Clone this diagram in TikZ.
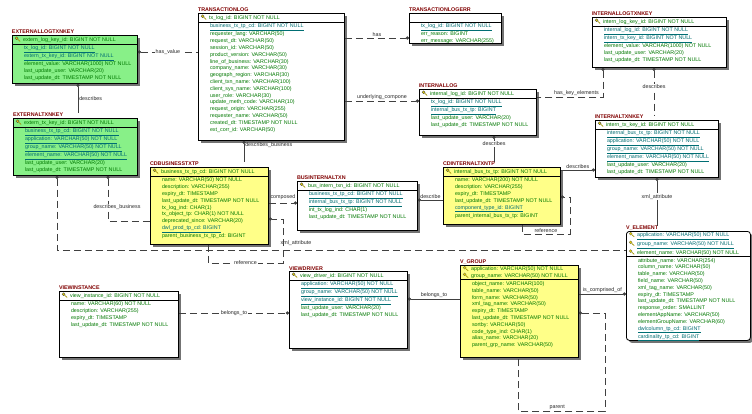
\documentclass[tikz,border=0pt]{standalone}
\usepackage{fontspec}
\setmainfont{Liberation Sans}
\usepackage{xcolor}
\usepackage{tikz}
\usetikzlibrary{positioning, shadows, arrows.meta}

\definecolor{ertitle}{HTML}{800000}
\definecolor{erfield}{HTML}{007800}
\definecolor{erkey}{HTML}{006E73}
\definecolor{ergreen}{HTML}{88F088}
\definecolor{eryellow}{HTML}{FFFF88}
\definecolor{keygold}{HTML}{E6D200}

\newcommand{\erfont}{\fontsize{5.35}{6.8}\selectfont}
\newcommand{\fk}[1]{\textcolor{erkey}{\underline{#1}}}
\newcommand{\pkey}{\tikz[baseline=0pt]{\draw[line width=0.25pt, draw=black!70, fill=keygold] (1.6pt,3pt) circle (1.5pt); \draw[line width=0.7pt, draw=keygold!70!black] (2.6pt,2pt) -- (5.2pt,-0.2pt);}\hspace{2.5pt}}

\tikzstyle{tablebox} = [rectangle, draw=black, line width=0.8pt, anchor=north west, drop shadow={shadow xshift=2.5pt, shadow yshift=-2.5pt, fill=black, opacity=0.55}]
\tikzstyle{tabletitle} = [anchor=south west, inner sep=0pt, outer sep=0pt, font=\erfont\bfseries, text=ertitle]
\tikzstyle{keyrow} = [anchor=north west, inner xsep=3pt, inner ysep=1pt, outer sep=0pt, minimum height=9pt, align=left, font=\erfont, text=erfield]
\tikzstyle{fieldrows} = [anchor=north west, inner xsep=12pt, inner ysep=2pt, outer sep=0pt, align=left, font=\erfont, text=erfield]
\tikzstyle{relation} = [draw=black!75, line width=0.5pt, >={Circle[length=3.2pt]}]
\tikzstyle{dashrel} = [relation, dash pattern=on 7pt off 4pt]
\tikzstyle{rellabel} = [font=\erfont, text=black!85, inner sep=1pt]

% name, position, width, height, fill, title, key rows, field rows
\newcommand{\ertable}[8]{%
  \node (#1) [tablebox, fill=#5, minimum width=#3, minimum height=#4] at #2 {};
  \node (#1-title) [tabletitle] at ([yshift=1pt]#1.north west) {#6};
  \node (#1-key) [keyrow] at (#1.north west) {#7};
  \draw [line width=0.5pt] (#1-key.south -| #1.west) -- (#1-key.south -| #1.east);
  \node (#1-fields) [fieldrows] at (#1-key.south west) {#8};
}

\begin{document}
\begin{tikzpicture}[x=1pt, y=-1pt]
\useasboundingbox (0,0) rectangle (752,414);

% External key tables
\ertable{extlogkey}{(12,35)}{125pt}{48pt}{ergreen}{EXTERNALLOGTXNKEY}
  {\pkey extern\_log\_key\_id: BIGINT NOT NULL}
  {\fk{tx\_log\_id: BIGINT NOT NULL}\\ \fk{extern\_tx\_key\_id: BIGINT NOT NULL}\\ element\_value: VARCHAR(1000) NOT NULL\\ last\_update\_user: VARCHAR(20)\\ last\_update\_dt: TIMESTAMP NOT NULL}
\ertable{exttxkey}{(13,118)}{124pt}{57pt}{ergreen}{EXTERNALTXNKEY}
  {\pkey extern\_tx\_key\_id: BIGINT NOT NULL}
  {\fk{business\_tx\_tp\_cd: BIGINT NOT NULL}\\ \fk{application: VARCHAR(50) NOT NULL}\\ \fk{group\_name: VARCHAR(50) NOT NULL}\\ \fk{element\_name: VARCHAR(50) NOT NULL}\\ last\_update\_user: VARCHAR(20)\\ last\_update\_dt: TIMESTAMP NOT NULL}

% Transaction log tables
\ertable{txlog}{(198,13)}{146pt}{127pt}{white}{TRANSACTIONLOG}
  {\pkey tx\_log\_id: BIGINT NOT NULL}
  {\fk{business\_tx\_tp\_cd: BIGINT NOT NULL}\\ requester\_lang: VARCHAR(50)\\ request\_dt: VARCHAR(50)\\ session\_id: VARCHAR(50)\\ product\_version: VARCHAR(50)\\ line\_of\_business: VARCHAR(30)\\ company\_name: VARCHAR(30)\\ geograph\_region: VARCHAR(30)\\ client\_txn\_name: VARCHAR(100)\\ client\_sys\_name: VARCHAR(100)\\ user\_role: VARCHAR(30)\\ update\_meth\_code: VARCHAR(10)\\ request\_origin: VARCHAR(255)\\ requester\_name: VARCHAR(50)\\ created\_dt: TIMESTAMP NOT NULL\\ ext\_corr\_id: VARCHAR(50)}
\ertable{txlogerr}{(409,13)}{92pt}{30pt}{white}{TRANSACTIONLOGERR}
  {}
  {\fk{tx\_log\_id: BIGINT NOT NULL}\\ err\_reason: BIGINT\\ err\_message: VARCHAR(255)}

% Internal tables
\ertable{intlog}{(419,89)}{117pt}{46pt}{white}{INTERNALLOG}
  {\pkey internal\_log\_id: BIGINT NOT NULL}
  {\fk{tx\_log\_id: BIGINT NOT NULL}\\ \fk{internal\_bus\_tx\_tp: BIGINT}\\ last\_update\_user: VARCHAR(20)\\ last\_update\_dt: TIMESTAMP NOT NULL}
\ertable{intlogkey}{(592,17)}{134pt}{50pt}{white}{INTERNALLOGTXNKEY}
  {\pkey intern\_log\_key\_id: BIGINT NOT NULL}
  {\fk{internal\_log\_id: BIGINT NOT NULL}\\ \fk{intern\_tx\_key\_id: BIGINT NOT NULL}\\ element\_value: VARCHAR(1000) NOT NULL\\ last\_update\_user: VARCHAR(20)\\ last\_update\_dt: TIMESTAMP NOT NULL}
\ertable{inttxkey}{(595,120)}{123pt}{57pt}{white}{INTERNALTXNKEY}
  {\pkey intern\_tx\_key\_id: BIGINT NOT NULL}
  {\fk{internal\_bus\_tx\_tp: BIGINT NOT NULL}\\ \fk{application: VARCHAR(50) NOT NULL}\\ \fk{group\_name: VARCHAR(50) NOT NULL}\\ \fk{element\_name: VARCHAR(50) NOT NULL}\\ last\_update\_user: VARCHAR(20)\\ last\_update\_dt: TIMESTAMP NOT NULL}

% Code tables
\ertable{cdbus}{(150,167)}{118pt}{77pt}{eryellow}{CDBUSINESSTXTP}
  {\pkey business\_tx\_tp\_cd: BIGINT NOT NULL}
  {name: VARCHAR(50) NOT NULL\\ description: VARCHAR(255)\\ expiry\_dt: TIMESTAMP\\ last\_update\_dt: TIMESTAMP NOT NULL\\ tx\_log\_ind: CHAR(1)\\ tx\_object\_tp: CHAR(1) NOT NULL\\ deprecated\_since: VARCHAR(20)\\ \fk{dwl\_prod\_tp\_cd: BIGINT}\\ parent\_business\_tx\_tp\_cd: BIGINT}
\ertable{businttxn}{(297,181)}{120pt}{49pt}{white}{BUSINTERNALTXN}
  {\pkey bus\_intern\_txn\_id: BIGINT NOT NULL}
  {\fk{business\_tx\_tp\_cd: BIGINT NOT NULL}\\ \fk{internal\_bus\_tx\_tp: BIGINT NOT NULL}\\ int\_tx\_log\_ind: CHAR(1)\\ last\_update\_dt: TIMESTAMP NOT NULL}
\ertable{cdint}{(443,167)}{117pt}{57pt}{eryellow}{CDINTERNALTXNTP}
  {\pkey internal\_bus\_tx\_tp: BIGINT NOT NULL}
  {name: VARCHAR(200) NOT NULL\\ description: VARCHAR(255)\\ expiry\_dt: TIMESTAMP\\ last\_update\_dt: TIMESTAMP NOT NULL\\ \fk{component\_type\_id: BIGINT}\\ parent\_internal\_bus\_tx\_tp: BIGINT}

% View tables
\ertable{velem}{(626,231)}{124pt}{109pt}{white, rounded corners=3pt}{V\_ELEMENT}
  {\pkey\fk{application: VARCHAR(50) NOT NULL}\\ \pkey\fk{group\_name: VARCHAR(50) NOT NULL}\\ \pkey element\_name: VARCHAR(50) NOT NULL}
  {attribute\_name: VARCHAR(254)\\ column\_name: VARCHAR(50)\\ table\_name: VARCHAR(50)\\ field\_name: VARCHAR(50)\\ xml\_tag\_name: VARCHAR(50)\\ expiry\_dt: TIMESTAMP\\ last\_update\_dt: TIMESTAMP NOT NULL\\ response\_order: SMALLINT\\ elementAppName: VARCHAR(50)\\ elementGroupName: VARCHAR(60)\\ \fk{dwlcolumn\_tp\_cd: BIGINT}\\ \fk{cardinality\_tp\_cd: BIGINT}}
\ertable{vgroup}{(460,265)}{118pt}{92pt}{eryellow}{V\_GROUP}
  {\pkey application: VARCHAR(50) NOT NULL\\ \pkey group\_name: VARCHAR(50) NOT NULL}
  {object\_name: VARCHAR(100)\\ table\_name: VARCHAR(50)\\ form\_name: VARCHAR(50)\\ xml\_tag\_name: VARCHAR(50)\\ expiry\_dt: TIMESTAMP\\ last\_update\_dt: TIMESTAMP NOT NULL\\ sortby: VARCHAR(50)\\ code\_type\_ind: CHAR(1)\\ alias\_name: VARCHAR(20)\\ parent\_grp\_name: VARCHAR(50)}
\ertable{viewinst}{(59,291)}{119pt}{66pt}{white}{VIEWINSTANCE}
  {\pkey view\_instance\_id: BIGINT NOT NULL}
  {name: VARCHAR(60) NOT NULL\\ description: VARCHAR(255)\\ expiry\_dt: TIMESTAMP\\ last\_update\_dt: TIMESTAMP NOT NULL}
\ertable{viewdrv}{(289,271)}{118pt}{77pt}{white}{VIEWDRIVER}
  {\pkey view\_driver\_id: BIGINT NOT NULL}
  {\fk{application: VARCHAR(50) NOT NULL}\\ \fk{group\_name: VARCHAR(50) NOT NULL}\\ \fk{view\_instance\_id: BIGINT NOT NULL}\\ last\_update\_user: VARCHAR(20)\\ last\_update\_dt: TIMESTAMP NOT NULL}

% Levels and bends of the relations
\coordinate (hasvalue) at (0,52);
\coordinate (extdesc) at (78,0);
\coordinate (has) at (0,38);
\coordinate (underlying) at (0,101);
\coordinate (haskey) at (603,97);
\coordinate (intdesc) at (654,0);
\coordinate (cddesc) at (494,0);
\coordinate (inttxdesc) at (0,170);
\coordinate (cdref-a) at (570,197);
\coordinate (cdref-b) at (522,234);
\coordinate (describe) at (0,200);
\coordinate (composed) at (0,203);
\coordinate (txdesc) at (244,0);
\coordinate (extbus) at (108,221);
\coordinate (xmlattr) at (57,250);
\coordinate (xmlattr-b) at (657,0);
\coordinate (busref-a) at (283,219);
\coordinate (busref-b) at (208,263);
\coordinate (belongs) at (0,313);
\coordinate (belongs-b) at (0,299);
\coordinate (comprised) at (0,294);
\coordinate (parent-a) at (605,313);
\coordinate (parent-b) at (518,411);

% Relations of the log tables
\draw [dashrel, <-] (extlogkey.east |- hasvalue) -- node [rellabel, fill=white] {has\_value} (txlog.west |- hasvalue);
\draw [relation, <-] (extlogkey.south -| extdesc) -- node [rellabel, right] {describes} (exttxkey-title.north -| extdesc);
\draw [dashrel, ->] (txlog.east |- has) -- node [rellabel, above] {has} (txlogerr.west |- has);
\draw [dashrel, ->] (txlog.east |- underlying) -- node [rellabel, above] {underlying\_compone} (intlog.west |- underlying);
\draw [dashrel, <-] (intlogkey.south -| haskey) -- (haskey) -- node [rellabel, above, pos=0.4] {has\_key\_elements} (intlog.east |- haskey);
\draw [dashrel, <-] (intlogkey.south -| intdesc) -- node [rellabel, fill=white, pos=0.4] {describes} (inttxkey-title.north -| intdesc);
\draw [relation, <-] (intlog.south -| cddesc) -- node [rellabel, fill=white, pos=0.3] {describes} (cdint-title.north -| cddesc);
\draw [relation, <-] (inttxkey.west |- inttxdesc) -- node [rellabel, above] {describes} (cdint.east |- inttxdesc);
\draw [dashrel, ->] (cdint.south -| cdref-b) -- (cdref-b) -- node [rellabel, above] {reference} (cdref-b -| cdref-a) -- (cdref-a) -- (cdint.east |- cdref-a);

% Relations of the business tables
\draw [relation, ->] (cdint.west |- describe) -- node [rellabel, above] {describe} (businttxn.east |- describe);
\draw [dashrel, ->] (cdbus.east |- composed) -- node [rellabel, above=2pt] {composed} (businttxn.west |- composed);
\draw [relation, <-] (txlog.south -| txdesc) -- node [rellabel, right, pos=0.2] {describes\_business} (cdbus-title.north -| txdesc);
\draw [dashrel, <-] (exttxkey.south -| extbus) -- node [rellabel, fill=white, pos=0.7, xshift=9pt] {describes\_business} (extbus) -- (cdbus.west |- extbus);
\draw [dashrel, <-] (exttxkey.south -| xmlattr) -- (xmlattr) -- node [rellabel, above=3pt, pos=0.42] {xml\_attribute} (velem.west |- xmlattr);
\draw [relation, <-] (inttxkey.south -| xmlattr-b) -- node [rellabel, fill=white, pos=0.4] {xml\_attribute} (velem-title.north -| xmlattr-b);
\draw [dashrel, ->] (cdbus.south -| busref-b) -- (busref-b) -- node [rellabel, fill=white] {reference} (busref-b -| busref-a) -- (busref-a) -- (cdbus.east |- busref-a);

% Relations of the view tables
\draw [dashrel, ->] (viewinst.east |- belongs) -- node [rellabel, fill=white] {belongs\_to} (viewdrv.west |- belongs);
\draw [relation, <-] (viewdrv.east |- belongs-b) -- node [rellabel, above] {belongs\_to} (vgroup.west |- belongs-b);
\draw [relation, ->] (vgroup.east |- comprised) -- node [rellabel, above] {is\_comprised\_of} (velem.west |- comprised);
\draw [dashrel, <-] (vgroup.east |- parent-a) -- (parent-a) -- (parent-a |- parent-b) -- node [rellabel, above, pos=0.55] {parent} (parent-b) -- (vgroup.south -| parent-b);

\end{tikzpicture}
\end{document}
